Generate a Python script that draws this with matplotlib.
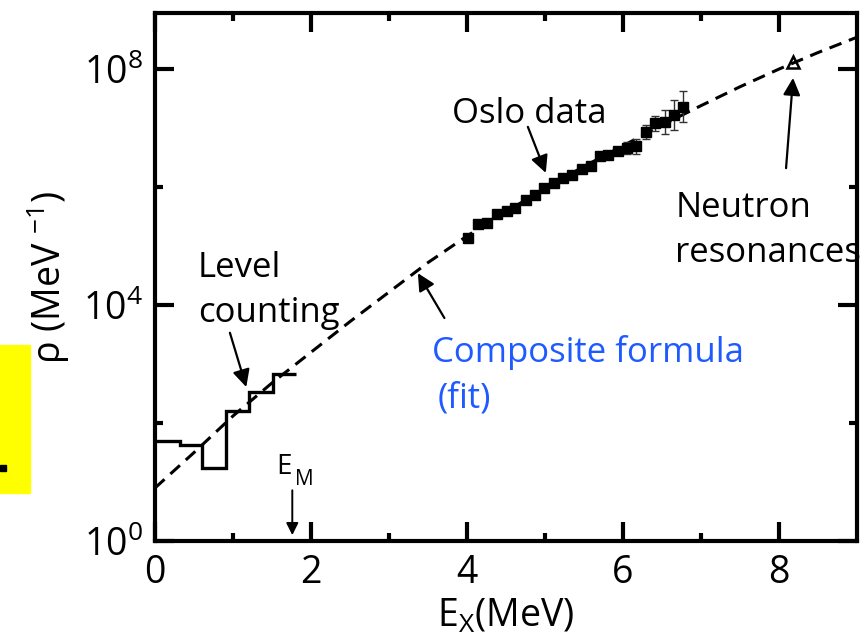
import matplotlib
matplotlib.use("Agg")
import matplotlib.pyplot as plt
from matplotlib.patches import Rectangle
import numpy as np

plt.rcParams['font.family'] = ['Open Sans', 'DejaVu Sans']
plt.rcParams['mathtext.default'] = 'regular'

# composite formula (fit): E (MeV), log10(rho)
fit_e = [0, 0.5, 1.0, 1.5, 2.0, 2.5, 3.0, 3.5, 4.0, 4.5, 5.0, 5.5, 6.0, 6.5, 7.0, 7.5, 8.0, 8.5, 9.0]
fit_log = [0.90, 1.50, 2.12, 2.68, 3.20, 3.72, 4.22, 4.72, 5.17, 5.58, 5.98, 6.35, 6.70, 7.05, 7.38, 7.70, 8.00, 8.28, 8.54]

# level counting histogram
lc_edges = [0, 0.32, 0.60, 0.91, 1.20, 1.51, 1.81]
lc_log = [1.69, 1.63, 1.24, 2.20, 2.53, 2.83]

# Oslo data
oslo_e = [4.01, 4.14, 4.26, 4.38, 4.51, 4.62, 4.76, 4.87, 4.99, 5.11, 5.23, 5.35,
          5.47, 5.59, 5.71, 5.81, 5.94, 6.05, 6.17, 6.29, 6.41, 6.54, 6.65, 6.77]
oslo_log = [5.14, 5.37, 5.39, 5.54, 5.59, 5.64, 5.78, 5.86, 5.98, 6.07, 6.15, 6.20,
            6.31, 6.36, 6.53, 6.54, 6.61, 6.66, 6.69, 6.93, 7.08, 7.10, 7.22, 7.36]
oslo_err = [0.02, 0.02, 0.02, 0.02, 0.02, 0.02, 0.02, 0.02, 0.02, 0.02, 0.02, 0.02,
            0.02, 0.02, 0.03, 0.04, 0.06, 0.10, 0.13, 0.12, 0.13, 0.20, 0.26, 0.26]

# neutron resonance point
nr_e = [8.18]
nr_log = [8.12]

fig = plt.figure(figsize=(8.67, 6.38), dpi=100)
ax = fig.add_axes([0.1788, 0.152, 0.8097, 0.8276])

ax.plot(fit_e, 10**np.array(fit_log), color='black', lw=2.2, ls=(0, (4.2, 2.6)))
ax.stairs(10**np.array(lc_log), lc_edges, baseline=None, color='black', lw=2.4)

oy = 10**np.array(oslo_log)
oe = np.array(oslo_err)
yerr = [oy - oy * 10**(-oe), oy * 10**oe - oy]
ax.errorbar(oslo_e, oy, yerr=yerr, fmt='s', color='black', ms=7.5,
            ecolor='#333333', elinewidth=1, capsize=3, capthick=1)
ax.plot(nr_e, 10**np.array(nr_log), '^', mfc='none', mec='black', ms=9, mew=1.8)

ax.set_yscale('log')
ax.set_xlim(0, 9)
ax.set_ylim(1, 10**8.95)
ax.set_xticks([0, 2, 4, 6, 8])
ax.set_xticks([1, 3, 5, 7], minor=True)
ax.set_yticks([1, 1e4, 1e8])
ax.set_yticklabels(['$10^{0}$', '$10^{4}$', '$10^{8}$'])
ax.set_yticks([1e2, 1e6], minor=True)
ax.set_yticklabels([], minor=True)
ax.tick_params(which='both', direction='in', top=True, right=True, width=3, labelsize=27)
ax.tick_params(which='major', length=14, pad=9)
ax.tick_params(which='minor', length=6)
for s in ax.spines.values():
    s.set_linewidth(3)

ax.set_xlabel('E$_{X}$(MeV)', fontsize=27, labelpad=4)
ax.set_ylabel('ρ (MeV $^{-1}$)', fontsize=27, labelpad=8)

arrow = dict(arrowstyle='-|>', color='black', lw=1.6, mutation_scale=26, shrinkA=0, shrinkB=0)
ax.annotate('', xy=(5.01, 10**6.24), xytext=(4.78, 10**7.02), arrowprops=arrow)
ax.annotate('', xy=(8.18, 10**7.85), xytext=(8.09, 10**6.32), arrowprops=arrow)
ax.annotate('', xy=(1.17, 10**2.61), xytext=(0.96, 10**3.53), arrowprops=arrow)
ax.annotate('', xy=(3.37, 10**4.54), xytext=(3.71, 10**3.78), arrowprops=arrow)
ax.annotate('', xy=(1.76, 10**0.10), xytext=(1.76, 10**0.86),
            arrowprops=dict(arrowstyle='-|>', color='black', lw=1.4, mutation_scale=18,
                            shrinkA=0, shrinkB=0))

fs = 25
ax.text(3.81, 10**7.08, 'Oslo data', fontsize=fs, va='baseline')
ax.text(6.67, 10**5.49, 'Neutron', fontsize=fs, va='baseline')
ax.text(6.67, 10**4.73, 'resonances', fontsize=fs, va='baseline', clip_on=False)
ax.text(0.55, 10**4.47, 'Level', fontsize=fs, va='baseline')
ax.text(0.55, 10**3.71, 'counting', fontsize=fs, va='baseline')
ax.text(3.55, 10**3.03, 'Composite formula', fontsize=fs, va='baseline', color='#1e5aff')
ax.text(3.62, 10**2.27, '(fit)', fontsize=fs, va='baseline', color='#1e5aff')
ax.text(1.56, 10**1.14, 'E', fontsize=20, va='baseline')
ax.text(1.79, 10**0.95, 'M', fontsize=15, va='baseline')

# yellow fragment at the left edge
fig.patches.append(Rectangle((0, 1 - 493 / 638), 30 / 867, 148 / 638,
                             transform=fig.transFigure, color='#ffff00', zorder=0))
fig.patches.append(Rectangle((0, 1 - 471 / 638), 6 / 867, 6 / 638,
                             transform=fig.transFigure, color='black', zorder=1))

fig.savefig('out.png', dpi=100)
